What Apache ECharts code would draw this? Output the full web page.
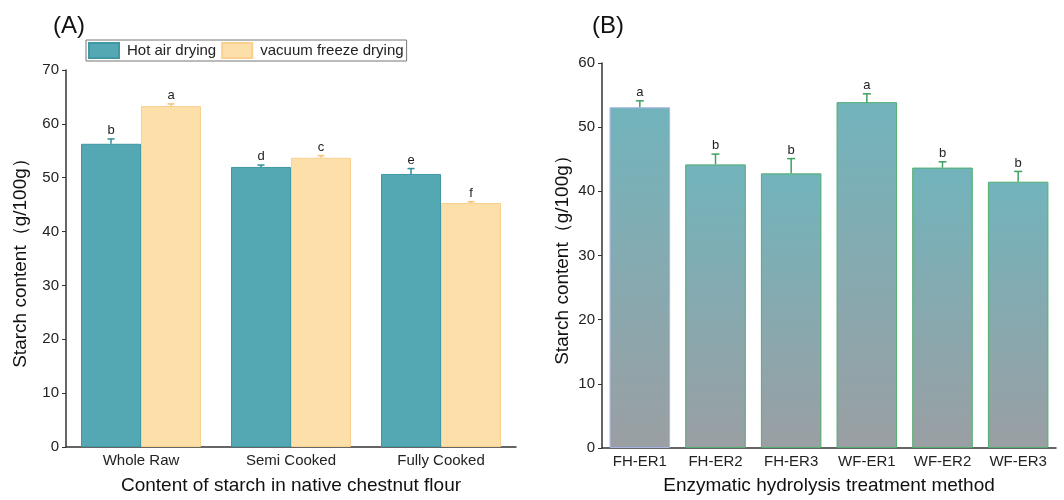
<!DOCTYPE html>
<html><head><meta charset="utf-8">
<script src="https://cdn.jsdelivr.net/npm/echarts@6/dist/echarts.min.js"></script>
<style>html,body{margin:0;padding:0;background:#fff}#c{width:1064px;height:500px}</style>
</head><body><div id="c"></div>
<script>
const catsA = ['Whole Raw', 'Semi Cooked', 'Fully Cooked'];
const hotAir = [56.3, 52.0, 50.7];
const hotAirErr = [0.9, 0.35, 1.0];
const hotAirSig = ['b', 'd', 'e'];
const freeze = [63.3, 53.7, 45.3];
const freezeErr = [0.4, 0.4, 0.25];
const freezeSig = ['a', 'c', 'f'];
const catsB = ['FH-ER1', 'FH-ER2', 'FH-ER3', 'WF-ER1', 'WF-ER2', 'WF-ER3'];
const valB = [53.1, 44.2, 42.8, 53.9, 43.7, 41.5];
const errB = [1.0, 1.6, 2.3, 1.3, 0.9, 1.6];
const sigB = ['a', 'b', 'b', 'a', 'b', 'b'];

const FONT = 'Liberation Sans, Arial, sans-serif';
const chart = echarts.init(document.getElementById('c'));

function errSeries(name, xi, yi, vals, errs, sigs, offsetFrac, color, capW) {
  return {
    type: 'custom', name: name, xAxisIndex: xi, yAxisIndex: yi, z: 10,
    data: vals.map((v, i) => [i, v, errs[i]]),
    renderItem: function (params, api) {
      const i = api.value(0), v = api.value(1), e = api.value(2);
      const bw = api.size([1, 0])[0];
      const base = api.coord([i, v]);
      const top = api.coord([i, v + e]);
      const x = base[0] + offsetFrac * bw;
      return {
        type: 'group', children: [
          { type: 'line', shape: { x1: x, y1: base[1], x2: x, y2: top[1] }, style: { stroke: color, lineWidth: 1.5 } },
          { type: 'line', shape: { x1: x - capW / 2, y1: top[1], x2: x + capW / 2, y2: top[1] }, style: { stroke: color, lineWidth: 1.5 } },
          { type: 'text', x: x, y: top[1] - 2, style: { text: sigs[i], textAlign: 'center', textVerticalAlign: 'bottom', fill: '#222', font: '13px ' + FONT } }
        ]
      };
    }
  };
}

const axisLine = { show: true, lineStyle: { color: '#333', width: 1.5 } };
const gradB = new echarts.graphic.LinearGradient(0, 0, 0, 1, [
  { offset: 0, color: '#72b4bc' }, { offset: 1, color: '#9a9fa3' }
]);

chart.setOption({
  animation: false,
  textStyle: { fontFamily: FONT },
  title: [
    { text: '(A)', left: 48, top: 9, textStyle: { fontSize: 24, fontWeight: 'normal', color: '#111', fontFamily: FONT } },
    { text: '(B)', left: 587, top: 9, textStyle: { fontSize: 24, fontWeight: 'normal', color: '#111', fontFamily: FONT } }
  ],
  legend: {
    left: 86, top: 40, orient: 'horizontal', data: ['Hot air drying', 'vacuum freeze drying'],
    icon: 'rect', itemWidth: 30, itemHeight: 15, itemGap: 5, padding: [2, 3, 2, 2],
    borderColor: '#777', borderWidth: 1,
    textStyle: { fontSize: 15, color: '#222', fontFamily: FONT, padding: [0, 0, 0, 3] }
  },
  grid: [
    { left: 66, right: 548, top: 70, bottom: 52 },
    { left: 602, right: 8, top: 63, bottom: 51 }
  ],
  xAxis: [
    { type: 'category', gridIndex: 0, data: catsA, axisLine: axisLine,
      axisTick: { show: true, inside: true, alignWithLabel: true, length: 4, lineStyle: { color: '#333' } },
      axisLabel: { fontSize: 15, color: '#222', margin: 6 },
      name: 'Content of starch in native chestnut flour', nameLocation: 'middle', nameGap: 29,
      nameTextStyle: { fontSize: 19, color: '#111' } },
    { type: 'category', gridIndex: 1, data: catsB, axisLine: axisLine,
      axisTick: { show: true, inside: true, alignWithLabel: true, length: 4, lineStyle: { color: '#333' } },
      axisLabel: { fontSize: 15, color: '#222', margin: 6 },
      name: 'Enzymatic hydrolysis treatment method', nameLocation: 'middle', nameGap: 28,
      nameTextStyle: { fontSize: 19, color: '#111' } }
  ],
  yAxis: [
    { type: 'value', gridIndex: 0, min: 0, max: 70, interval: 10, axisLine: axisLine,
      axisTick: { show: true, length: 4, lineStyle: { color: '#333' } }, splitLine: { show: false },
      axisLabel: { fontSize: 15, color: '#222', margin: 7 },
      name: 'Starch content（g/100g）', nameLocation: 'middle', nameGap: 36,
      nameTextStyle: { fontSize: 19, color: '#111' } },
    { type: 'value', gridIndex: 1, min: 0, max: 60, interval: 10, axisLine: axisLine,
      axisTick: { show: true, length: 4, lineStyle: { color: '#333' } }, splitLine: { show: false },
      axisLabel: { fontSize: 15, color: '#222', margin: 7 },
      name: 'Starch content（g/100g）', nameLocation: 'middle', nameGap: 30,
      nameTextStyle: { fontSize: 19, color: '#111' } }
  ],
  series: [
    { type: 'bar', name: 'Hot air drying', xAxisIndex: 0, yAxisIndex: 0, data: hotAir,
      barGap: '0%', barCategoryGap: '20%',
      itemStyle: { color: '#54a8b3', borderColor: '#3f98a4', borderWidth: 1 } },
    { type: 'bar', name: 'vacuum freeze drying', xAxisIndex: 0, yAxisIndex: 0, data: freeze,
      barGap: '0%', barCategoryGap: '20%',
      itemStyle: { color: '#fddfa9', borderColor: '#f9d08f', borderWidth: 1 } },
    errSeries('errA1', 0, 0, hotAir, hotAirErr, hotAirSig, -0.2, '#2f8e9a', 7),
    errSeries('errA2', 0, 0, freeze, freezeErr, freezeSig, 0.2, '#f2c27a', 7),
    { type: 'bar', name: 'B', xAxisIndex: 1, yAxisIndex: 1, barCategoryGap: '20%',
      data: valB.map((v, i) => ({ value: v, itemStyle: { borderColor: i === 0 ? '#a8b4e6' : '#4fae6e' } })),
      itemStyle: { color: gradB, borderWidth: 1 } },
    errSeries('errB', 1, 1, valB, errB, sigB, 0, '#3fa060', 8)
  ]
});
</script></body></html>
